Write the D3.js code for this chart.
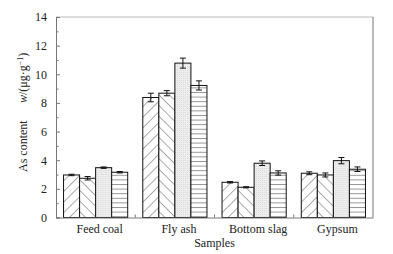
<!DOCTYPE html>
<html lang="en">
<head>
  <meta charset="utf-8">
  <title>As content</title>
  <script type="text/javascript" src="https://cdn.jsdelivr.net/npm/d3@7/dist/d3.min.js"></script>
  <style>
    body { margin: 0; background: #fff; }
    svg text { font-family: "Liberation Serif", "Times New Roman", serif !important; }
  </style>
</head>
<body>
<script type="text/javascript">
  let categories = ["Feed coal", "Fly ash", "Bottom slag", "Gypsum"];
  let seriesKeys = ["s1", "s2", "s3", "s4"];
  // values, per series across the four samples
  let s1 = [2.97, 8.38, 2.46, 3.09];
  let s2 = [2.74, 8.68, 2.11, 2.97];
  let s3 = [3.48, 10.78, 3.79, 3.97];
  let s4 = [3.16, 9.22, 3.11, 3.37];
  let e1 = [0.05, 0.30, 0.05, 0.10];
  let e2 = [0.12, 0.18, 0.04, 0.14];
  let e3 = [0.05, 0.35, 0.16, 0.22];
  let e4 = [0.05, 0.32, 0.15, 0.16];
  let yTicks = [0, 2, 4, 6, 8, 10, 12, 14];

  let vals = [s1, s2, s3, s4];
  let errs = [e1, e2, e3, e4];

  let w = 393, h = 254;
  let mLeft = 56, mRight = 373, mTop = 17, mBottom = 217.5;

  let svg = d3.select("body").append("svg")
    .attr("width", w)
    .attr("height", h)
    .attr("font-family", "'Liberation Serif', serif");

  let defs = svg.append("defs");
  defs.append("pattern").attr("id", "fwd")
    .attr("patternUnits", "userSpaceOnUse")
    .attr("width", 7.5).attr("height", 7.5)
    .attr("patternTransform", "rotate(45)")
    .append("line")
    .attr("x1", 0).attr("y1", 0).attr("x2", 0).attr("y2", 7.5)
    .attr("stroke", "#444").attr("stroke-width", 0.9);
  defs.append("pattern").attr("id", "back")
    .attr("patternUnits", "userSpaceOnUse")
    .attr("width", 7.5).attr("height", 7.5)
    .attr("patternTransform", "rotate(-45)")
    .append("line")
    .attr("x1", 0).attr("y1", 0).attr("x2", 0).attr("y2", 7.5)
    .attr("stroke", "#444").attr("stroke-width", 0.9);
  let dots = defs.append("pattern").attr("id", "dots")
    .attr("patternUnits", "userSpaceOnUse")
    .attr("width", 2).attr("height", 2);
  dots.append("rect").attr("width", 2).attr("height", 2).attr("fill", "#eeeeee");
  dots.append("rect").attr("width", 1).attr("height", 1).attr("fill", "#dadada");
  let hz = defs.append("pattern").attr("id", "horiz")
    .attr("patternUnits", "userSpaceOnUse")
    .attr("width", 8).attr("height", 4.6);
  hz.append("rect").attr("width", 8).attr("height", 4.6).attr("fill", "#fff");
  hz.append("line")
    .attr("x1", 0).attr("y1", 0.5).attr("x2", 8).attr("y2", 0.5)
    .attr("stroke", "#888").attr("stroke-width", 0.9);

  let fills = ["url(#fwd)", "url(#back)", "url(#dots)", "url(#horiz)"];

  let x0 = d3.scaleBand()
    .domain(categories)
    .range([mLeft, mRight]);

  let x1 = d3.scaleBand()
    .domain(seriesKeys)
    .range([0, x0.bandwidth()])
    .paddingOuter(0.47);

  let yScale = d3.scaleLinear()
    .domain([0, 14])
    .range([mBottom, mTop]);

  // frame
  svg.append("line")
    .attr("x1", mLeft).attr("x2", mRight).attr("y1", mTop).attr("y2", mTop)
    .attr("stroke", "#bbb").attr("stroke-width", 1);
  svg.append("line")
    .attr("x1", mRight).attr("x2", mRight).attr("y1", mTop).attr("y2", mBottom)
    .attr("stroke", "#777").attr("stroke-width", 1);

  // bars
  let table = [];
  categories.forEach(function(c, i) {
    seriesKeys.forEach(function(k, j) {
      table.push({ cat: c, key: k, j: j, v: vals[j][i], e: errs[j][i] });
    });
  });

  let groups = svg.selectAll("g.bar")
    .data(table)
    .enter()
    .append("g")
    .attr("class", "bar")
    .attr("transform", function(d) {
      return "translate(" + (x0(d.cat) + x1(d.key)) + ",0)";
    });

  groups.append("rect")
    .attr("x", 0)
    .attr("y", function(d) { return yScale(d.v); })
    .attr("width", x1.bandwidth())
    .attr("height", function(d) { return yScale(0) - yScale(d.v); })
    .attr("fill", "#fff");
  groups.append("rect")
    .attr("x", 0)
    .attr("y", function(d) { return yScale(d.v); })
    .attr("width", x1.bandwidth())
    .attr("height", function(d) { return yScale(0) - yScale(d.v); })
    .attr("fill", function(d) { return fills[d.j]; })
    .attr("stroke", "#111")
    .attr("stroke-width", 1);

  // error bars
  let bw = x1.bandwidth();
  groups.append("line")
    .attr("x1", bw / 2).attr("x2", bw / 2)
    .attr("y1", function(d) { return yScale(d.v + d.e); })
    .attr("y2", function(d) { return yScale(d.v - d.e); })
    .attr("stroke", "#111");
  groups.append("line")
    .attr("x1", bw / 2 - 3).attr("x2", bw / 2 + 3)
    .attr("y1", function(d) { return yScale(d.v + d.e); })
    .attr("y2", function(d) { return yScale(d.v + d.e); })
    .attr("stroke", "#111");
  groups.append("line")
    .attr("x1", bw / 2 - 3).attr("x2", bw / 2 + 3)
    .attr("y1", function(d) { return yScale(d.v - d.e); })
    .attr("y2", function(d) { return yScale(d.v - d.e); })
    .attr("stroke", "#111");

  // y axis
  let yAxis = svg.append("g")
    .attr("transform", "translate(" + mLeft + ",0)")
    .call(d3.axisLeft(yScale).tickValues(yTicks).tickSize(-4).tickPadding(9)
      .tickFormat(d3.format("d")));
  yAxis.attr("font-family", "'Liberation Serif', serif").attr("font-size", 12);
  yAxis.select(".domain").attr("stroke", "#777");
  yAxis.selectAll(".tick line").attr("stroke", "#777");
  yAxis.selectAll("text").attr("fill", "#222");
  let minor = svg.append("g")
    .attr("transform", "translate(" + mLeft + ",0)")
    .call(d3.axisLeft(yScale).tickValues(d3.range(1, 14, 2)).tickSize(-2.5).tickFormat(""));
  minor.select(".domain").remove();
  minor.selectAll(".tick line").attr("stroke", "#777");

  // x axis
  let xAxis = svg.append("g")
    .attr("transform", "translate(0," + mBottom + ")")
    .call(d3.axisBottom(x0).tickSize(0).tickPadding(7));
  xAxis.attr("font-family", "'Liberation Serif', serif").attr("font-size", 12);
  xAxis.select(".domain").attr("stroke", "#777");
  xAxis.selectAll("text")
    .attr("fill", "#222")
    .attr("dx", 4);
  svg.append("g").selectAll("line")
    .data(categories.slice(1))
    .enter()
    .append("line")
    .attr("x1", function(d) { return x0(d); })
    .attr("x2", function(d) { return x0(d); })
    .attr("y1", mBottom).attr("y2", mBottom - 3)
    .attr("stroke", "#777");

  // axis titles
  svg.append("text")
    .attr("x", (mLeft + mRight) / 2)
    .attr("y", 247)
    .attr("text-anchor", "middle")
    .attr("font-size", 12)
    .attr("fill", "#222")
    .text("Samples");

  svg.append("text")
    .attr("transform", "translate(26.5,172) rotate(-90)")
    .attr("font-size", 12)
    .attr("fill", "#222")
    .text("As content");

  let unit = svg.append("text")
    .attr("transform", "translate(26.5,103) rotate(-90)")
    .attr("font-size", 12)
    .attr("fill", "#222");
  unit.append("tspan").attr("font-style", "italic").text("w");
  unit.append("tspan").text("/(μg·g");
  unit.append("tspan").attr("font-size", 8).attr("dy", -4).text("−1");
  unit.append("tspan").attr("dy", 4).text(")");
</script>
</body>
</html>
